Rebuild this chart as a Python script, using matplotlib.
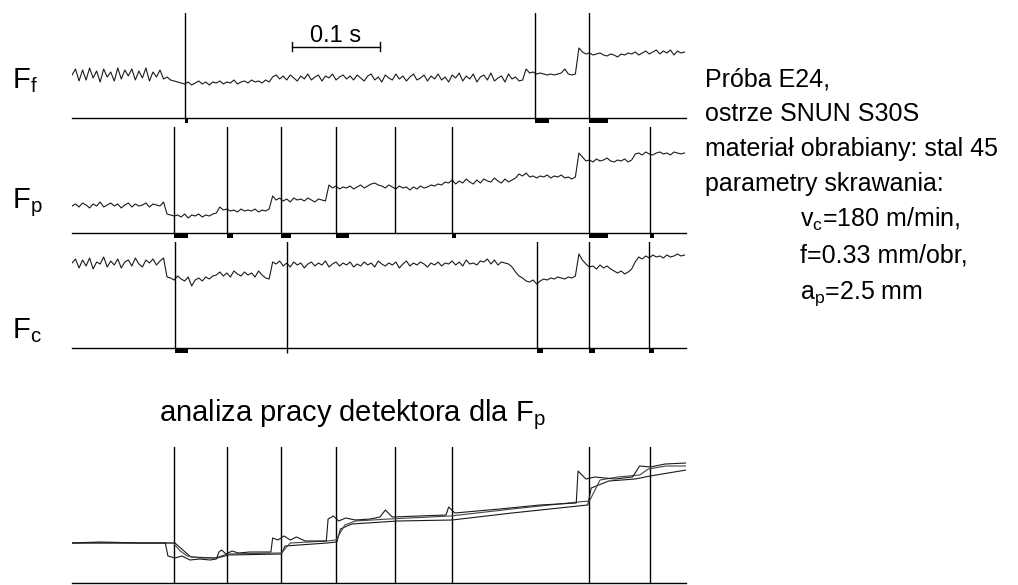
import numpy as np
import matplotlib
matplotlib.use("Agg")
import matplotlib.pyplot as plt

plt.rcParams['font.family'] = ['Liberation Sans', 'DejaVu Sans']
plt.rcParams['mathtext.default'] = 'regular'

# probkowanie sygnalow co 4 ms
dt = 0.004

# sila posuwowa Ff (jednostki umowne)
Ff = [43, 49, 37, 48, 38, 50, 40, 47, 36, 49, 41, 46, 37, 50, 39, 48, 42, 49, 38, 47, 40, 50, 37, 46, 41, 48, 39,
      41, 38, 37, 36, 35,
      34, 36, 33, 35, 37, 34, 36, 33, 36, 35, 37, 34, 36, 35, 38, 34, 36, 37, 35, 38, 36, 37, 35, 38, 36,
      41, 43, 39, 42, 38, 43, 40, 37, 42, 39, 44, 38, 41, 43, 37, 42, 40, 44, 38, 41, 43, 39, 42, 38,
      43, 40, 37, 42, 44, 38, 41, 36, 43, 40, 38, 44, 39, 42, 37, 41, 44, 38, 40, 43, 37, 42, 39, 44,
      38, 41, 36, 43, 40, 45, 37, 42, 39, 44, 36, 41, 43, 38, 45, 37, 40, 42, 36, 44, 39, 41, 37, 38,
      49, 45, 46, 44, 45, 44, 43, 44, 43, 44, 45, 49, 44, 43, 44,
      70, 66, 64, 65, 63, 64, 65, 63, 62, 64, 63, 61, 64, 63, 65, 64, 66, 63, 65, 67, 64, 66, 68, 64, 67, 65,
      68, 63, 67, 65, 66]

# sila odporowa Fp
Fp = [27, 29, 26, 30, 28, 25, 29, 27, 31, 26, 28, 30, 27, 29, 25, 28, 30, 26, 29, 27, 28, 30, 26, 29, 28, 27, 31,
      19, 18, 17, 18, 16, 19, 15, 18, 17, 19, 16, 18, 17, 19, 20,
      26, 23, 24, 22, 23, 21, 24, 22, 23, 22, 24, 21, 23, 22, 24,
      37, 33, 35, 32, 34, 31, 35, 33, 34, 32, 35, 33, 31, 34, 33, 32,
      48, 45, 47, 44, 46, 45, 47, 44, 46, 48, 45, 47, 49, 50,
      48, 47, 45, 48, 46, 44, 47, 45, 46, 43, 46, 44, 47, 45, 46, 48, 47, 49, 48, 51,
      50, 53, 49, 52, 50, 54, 51, 49, 53, 50, 54, 52, 51, 55, 52, 50, 54, 51, 53, 55, 59, 57,
      60, 56, 57, 55, 57, 56, 58, 55, 57, 56, 58, 55, 56, 54, 56,
      80, 76, 72, 73, 71, 74, 72, 73, 75, 72, 71, 73, 72, 74, 71, 73, 79, 80, 78, 81, 79, 78, 80, 81, 79, 80,
      78, 81, 80, 79, 80]

# sila skrawania Fc
Fc = [85, 89, 80, 88, 82, 90, 79, 86, 84, 91, 81, 87, 83, 89, 80, 86, 88, 82, 90, 84, 81, 88, 85, 89, 83, 87, 90,
      71, 70, 68, 72, 69, 67, 71, 62, 68, 70, 67, 71, 69, 72,
      73, 76, 72, 75, 71, 77, 74, 72, 76, 73, 75, 71, 77, 73, 70, 69,
      86, 84, 87, 82, 85, 81, 86, 83, 85, 80, 84, 86, 82, 85, 83, 87, 81, 84, 86, 82, 85, 83, 86, 81,
      84, 82, 86, 83, 85, 81, 87, 84, 82, 85, 83, 86, 80, 84, 87, 82, 85, 83, 86, 84, 81, 85, 83, 86,
      82, 85, 84, 87, 83, 86, 82, 88, 84, 85, 83, 87, 86, 89, 84, 88, 83, 86, 85, 84, 81, 76, 72, 70,
      67, 66, 68, 64, 67, 69, 68, 70, 69, 71, 70, 69, 71, 70, 72,
      94, 88, 84, 81, 82, 79, 83, 80, 82, 79, 77, 75, 77, 74, 76, 79, 86, 91, 89, 92, 90, 93, 91, 92, 90, 93,
      91, 92, 94, 92, 93]

# analiza detektora dla Fp - trzy przebiegi (czas [s], wartosc)
detA_t = [0.0, 0.032, 0.077, 0.106, 0.109, 0.117, 0.125, 0.134, 0.145, 0.157, 0.164, 0.167, 0.170, 0.175, 0.182,
          0.189, 0.202, 0.226, 0.228, 0.234, 0.241, 0.248, 0.255, 0.265, 0.289, 0.291, 0.297, 0.303, 0.311, 0.322,
          0.339, 0.350, 0.356, 0.364, 0.395, 0.425, 0.428, 0.435, 0.486, 0.532, 0.573, 0.575, 0.584, 0.594, 0.617,
          0.637, 0.645, 0.657, 0.674, 0.698]
detA_v = [40, 41, 40, 40, 27, 25, 27, 23, 24, 23, 24, 31, 33, 29, 32,
          30, 31, 31, 45, 43, 47, 43, 46, 42, 42, 64, 67, 62, 65, 63,
          64, 66, 73, 66, 67, 68, 76, 70, 74, 78, 80, 112, 104, 106, 104,
          106, 117, 116, 119, 120]
detB_t = [0.0, 0.115, 0.123, 0.131, 0.145, 0.163, 0.176, 0.235, 0.238, 0.248, 0.29, 0.300, 0.310, 0.322, 0.36,
          0.43, 0.50, 0.575, 0.588, 0.60, 0.62, 0.645, 0.655, 0.675, 0.698]
detB_v = [40, 40, 32, 27, 25, 25, 29, 30, 30, 40, 42, 43, 58, 62, 64,
          67, 74, 81, 82, 103, 106, 108, 114, 117, 117]
detC_t = [0.0, 0.117, 0.135, 0.165, 0.178, 0.238, 0.242, 0.29, 0.301, 0.305, 0.318, 0.37, 0.432, 0.50, 0.586,
          0.59, 0.61, 0.64, 0.657, 0.698]
detC_v = [40, 40, 26, 25, 28, 29, 37, 40, 41, 54, 59, 62, 63, 70, 78,
          95, 102, 104, 107, 113]

# chwile detekcji (linie pionowe) [s]
lin_Ff = [0.128, 0.526, 0.5875]
lin_Fp = [0.116, 0.176, 0.2375, 0.300, 0.367, 0.432, 0.5875, 0.657]
lin_Fc = [0.117, 0.244, 0.528, 0.5875, 0.656]

# znaczniki pod osia: (poczatek [s], dlugosc [s])
zn_Ff = [(0.128, 0.004), (0.526, 0.016), (0.5875, 0.021)]
zn_Fp = [(0.116, 0.016), (0.176, 0.007), (0.2375, 0.011), (0.300, 0.015), (0.432, 0.004), (0.5875, 0.021),
         (0.657, 0.004)]
zn_Fc = [(0.117, 0.015), (0.528, 0.007), (0.5875, 0.007), (0.656, 0.005)]

opis = ["Próba E24,", "ostrze SNUN S30S", "materiał obrabiany: stal 45", "parametry skrawania:",
        "v$_c$=180 m/min,", "f=0.33 mm/obr,", "a$_p$=2.5 mm"]

W, H = 1018, 585
T_MAX = 0.6977
fig = plt.figure(figsize=(W / 100, H / 100), dpi=100)


def panel(top, bottom, ymax):
    ax = fig.add_axes([72 / W, 1 - bottom / H, 614 / W, (bottom - top) / H])
    ax.set_xlim(0, T_MAX)
    ax.set_ylim(0, ymax)
    for s in ['top', 'left', 'right']:
        ax.spines[s].set_visible(False)
    ax.spines['bottom'].set_linewidth(1.0)
    ax.set_xticks([])
    ax.set_yticks([])
    ax.patch.set_alpha(0)
    return ax


def sygnal(ax, y, linie, znaczniki):
    t = np.arange(len(y)) * dt
    ax.plot(t, y, color='#1a1a1a', lw=0.8)
    for x in linie:
        ax.axvline(x, color='k', lw=1.0)
    ax.broken_barh(znaczniki, (-5, 5), facecolor='k', clip_on=False)


ax1 = panel(13, 118, 105)
sygnal(ax1, Ff, lin_Ff, zn_Ff)
# skala czasu 0.1 s
ax1.plot([0.25, 0.35], [71, 71], color='k', lw=1.0)
ax1.plot([0.25, 0.25], [67, 76], color='k', lw=1.0)
ax1.plot([0.35, 0.35], [67, 76], color='k', lw=1.0)
ax1.text(0.30, 76, "0.1 s", ha='center', va='baseline', fontsize=17)

ax2 = panel(127, 233, 106)
sygnal(ax2, Fp, lin_Fp, zn_Fp)

ax3 = panel(242, 348, 106)
sygnal(ax3, Fc, lin_Fc, zn_Fc)
ax3.vlines(lin_Fc[1], -5, 0, color='k', lw=1.0, clip_on=False)

ax4 = panel(447, 583, 136)
for x in lin_Fp:
    ax4.axvline(x, color='k', lw=1.0)
ax4.plot(detC_t, detC_v, color='#1a1a1a', lw=0.8)
ax4.plot(detB_t, detB_v, color='#444444', lw=0.8)
ax4.plot(detA_t, detA_v, color='#1a1a1a', lw=0.8)

# opisy sil
for lab, yb in [("F$_f$", 88), ("F$_p$", 208), ("F$_c$", 338)]:
    fig.text(12 / W, 1 - yb / H, lab, fontsize=21, va='baseline', ha='left')

fig.text(352 / W, 1 - 421 / H, "analiza pracy detektora dla F$_p$", fontsize=21, ha='center', va='baseline')

baz = [86, 121, 156, 191, 227, 263, 299]
for i, (s, yb) in enumerate(zip(opis, baz)):
    x = 705 if i < 4 else 800
    fig.text(x / W, 1 - yb / H, s, fontsize=18, va='baseline', ha='left')

fig.savefig("out.png", dpi=100)
